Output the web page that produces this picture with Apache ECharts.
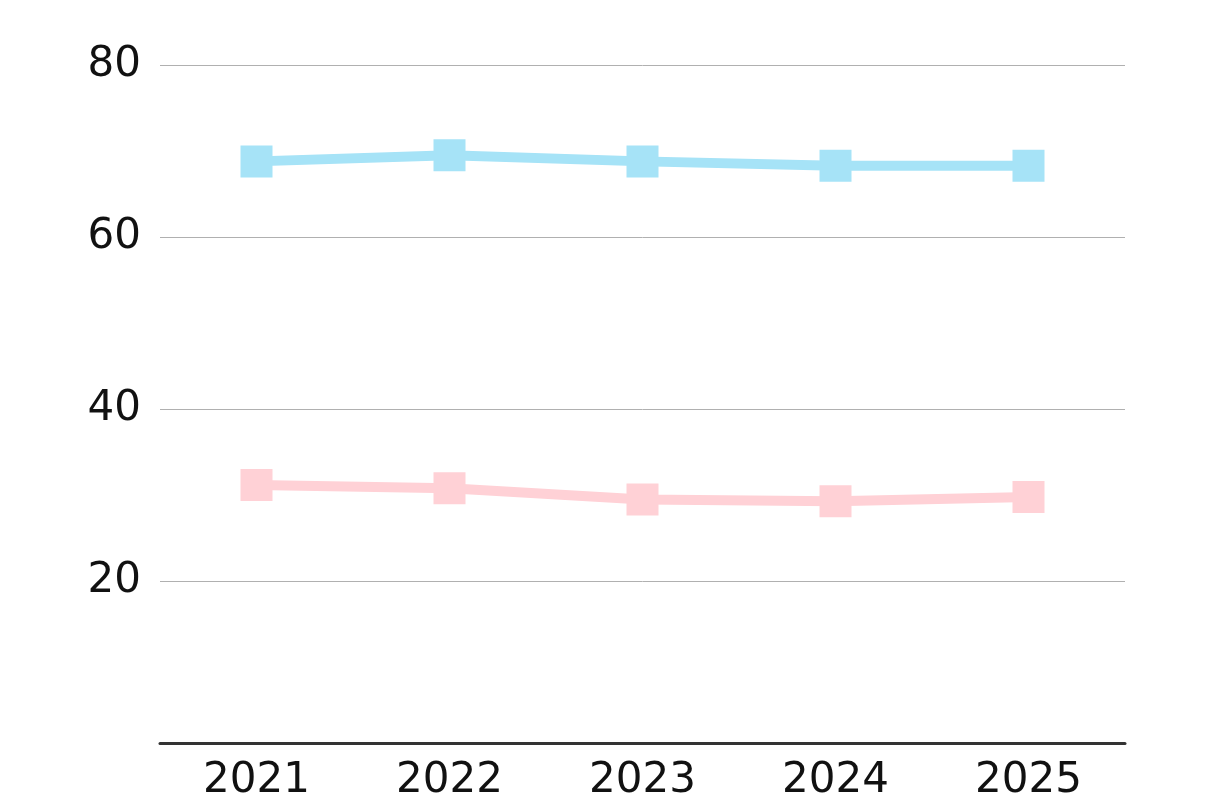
<!DOCTYPE html>
<html>
<head>
<meta charset="utf-8">
<script src="https://cdn.jsdelivr.net/npm/echarts@6/dist/echarts.min.js"></script>
<style>html,body{margin:0;padding:0;background:#fff}#c{width:1225px;height:800px}</style>
</head>
<body>
<div id="c"></div>
<script>
const categories = ['2021', '2022', '2023', '2024', '2025'];
const blueValues = [68.8, 69.5, 68.8, 68.3, 68.3];
const pinkValues = [31.2, 30.8, 29.5, 29.3, 29.8];
const yTicks = [20, 40, 60, 80];

const chart = echarts.init(document.getElementById('c'), null, {renderer: 'canvas'});
const font = 'DejaVu Sans';
chart.setOption({
  animation: false,
  backgroundColor: '#ffffff',
  grid: {left: 160, right: 100, top: 65, bottom: 46.6, containLabel: false, outerBoundsMode: 'none'},
  xAxis: {
    type: 'category',
    data: categories,
    boundaryGap: true,
    offset: -10,
    axisLine: {show: true, lineStyle: {color: '#333333', width: 3}},
    axisTick: {show: false},
    axisLabel: {color: '#111111', fontFamily: font, fontSize: 42, margin: 17},
    splitLine: {show: false}
  },
  yAxis: {
    type: 'value',
    min: 0, max: 80, interval: 20,
    axisLine: {show: false},
    axisTick: {show: false},
    axisLabel: {
      color: '#111111', fontFamily: font, fontSize: 42, margin: 19,
      formatter: v => yTicks.includes(v) ? String(v) : ''
    },
    splitLine: {
      show: true,
      lineStyle: {color: ['rgba(0,0,0,0)', '#b0b0b0', '#b0b0b0', '#b0b0b0', '#b0b0b0'], width: 1}
    }
  },
  series: [
    {
      type: 'line', data: blueValues,
      symbol: 'rect', symbolSize: 32,
      lineStyle: {color: '#a6e3f7', width: 10},
      itemStyle: {color: '#a6e3f7'}
    },
    {
      type: 'line', data: pinkValues,
      symbol: 'rect', symbolSize: 32,
      lineStyle: {color: '#ffd1d6', width: 10},
      itemStyle: {color: '#ffd1d6'}
    }
  ]
});
</script>
</body>
</html>
